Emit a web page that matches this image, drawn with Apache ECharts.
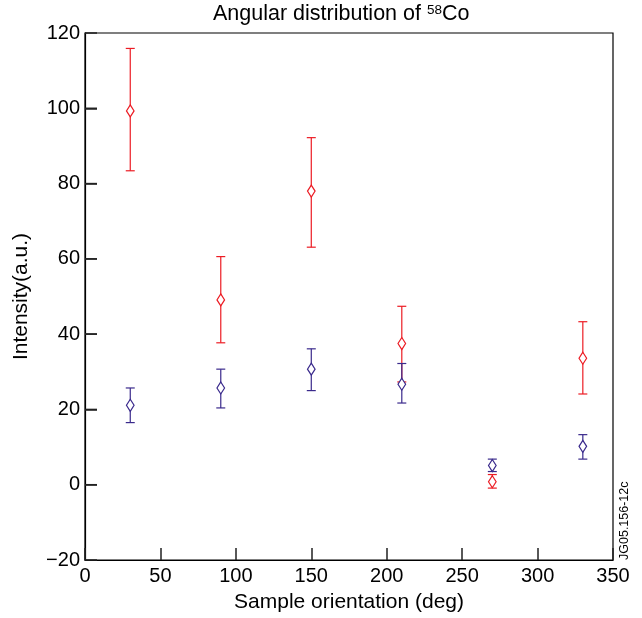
<!DOCTYPE html>
<html>
<head>
<meta charset="utf-8">
<script src="https://cdn.jsdelivr.net/npm/echarts@6/dist/echarts.min.js"></script>
<style>
html,body{margin:0;padding:0;background:#fff;}
#chart{width:642px;height:618px;}
</style>
</head>
<body>
<div id="chart"></div>
<script>
// Sample orientation (deg)
const orientations = [30, 90, 150, 210, 270, 330];
// Red series: value, lower and upper error bounds
const redValues = [99.3, 49.1, 78.0, 37.5, 0.8, 33.6];
const redLow    = [83.4, 37.7, 63.1, 27.3, -0.9, 24.1];
const redHigh   = [115.9, 60.6, 92.2, 47.4, 2.7, 43.3];
// Blue series
const blueValues = [21.1, 25.7, 30.7, 26.7, 5.1, 10.2];
const blueLow    = [16.5, 20.4, 25.0, 21.7, 3.5, 6.8];
const blueHigh   = [25.7, 30.7, 36.1, 32.2, 6.8, 13.3];
// Y tick values (for inward tick marks on the left axis)
const yTicks = [0, 20, 40, 60, 80, 100];

const RED = '#ec1c24';
const BLUE = '#3a2a8c';
const FONT = 'Liberation Sans, Arial, sans-serif';

function build(vals, lo, hi) {
  return orientations.map((x, i) => [x, vals[i], lo[i], hi[i]]);
}

function makeRender(color) {
  return function (params, api) {
    const x = api.value(0), y = api.value(1), l = api.value(2), h = api.value(3);
    const p = api.coord([x, y]);
    const pl = api.coord([x, l]);
    const ph = api.coord([x, h]);
    const cw = 4.5, dw = 3.8, dh = 6;
    const ls = { stroke: color, lineWidth: 1.2 };
    return {
      type: 'group',
      children: [
        { type: 'line', shape: { x1: p[0], y1: pl[1], x2: p[0], y2: ph[1] }, style: ls },
        { type: 'line', shape: { x1: p[0] - cw, y1: pl[1], x2: p[0] + cw, y2: pl[1] }, style: ls },
        { type: 'line', shape: { x1: p[0] - cw, y1: ph[1], x2: p[0] + cw, y2: ph[1] }, style: ls },
        { type: 'polygon', shape: { points: [[p[0], p[1] - dh], [p[0] + dw, p[1]], [p[0], p[1] + dh], [p[0] - dw, p[1]]] },
          style: { fill: '#fff', stroke: color, lineWidth: 1.2 } }
      ]
    };
  };
}

function renderTick(params, api) {
  const p = api.coord([api.value(0), api.value(1)]);
  return {
    type: 'line',
    shape: { x1: p[0], y1: p[1], x2: p[0] + 12, y2: p[1] },
    style: { stroke: '#222', lineWidth: 1.5 }
  };
}

const chart = echarts.init(document.getElementById('chart'), null, { renderer: 'canvas' });
chart.setOption({
  backgroundColor: '#fff',
  animation: false,
  textStyle: { fontFamily: FONT },
  grid: { left: 85, right: 29, top: 33, bottom: 57, show: true, borderColor: '#000', borderWidth: 1.2 },
  graphic: [
    {
      type: 'text', left: 213, top: 3,
      style: {
        text: '{a|Angular distribution of }{s|58}{a|Co}',
        rich: {
          a: { fontSize: 21.5, fontFamily: FONT, fill: '#000', lineHeight: 24 },
          s: { fontSize: 13.5, fontFamily: FONT, fill: '#000', lineHeight: 24, padding: [0, 0, 9, 0] }
        }
      }
    },
    {
      type: 'text', x: 625, y: 560, rotation: Math.PI / 2,
      style: { text: 'JG05.156-12c', fontSize: 12.5, fontFamily: FONT, fill: '#000', textAlign: 'left', textVerticalAlign: 'middle' }
    }
  ],
  xAxis: {
    type: 'value', min: 0, max: 350, interval: 50, position: 'bottom',
    name: 'Sample orientation (deg)', nameLocation: 'middle', nameGap: 32,
    nameTextStyle: { fontSize: 21, color: '#000', fontFamily: FONT },
    axisLine: { show: true, onZero: false, lineStyle: { color: '#000', width: 1.2 } },
    axisTick: { show: true, inside: true, length: 12, lineStyle: { color: '#222', width: 1.5 } },
    axisLabel: { fontSize: 20, color: '#000', margin: 6, fontFamily: FONT },
    splitLine: { show: false }
  },
  yAxis: {
    type: 'value', min: -20, max: 120, interval: 20, position: 'left',
    name: 'Intensity(a.u.)', nameLocation: 'middle', nameGap: 53,
    nameTextStyle: { fontSize: 21, color: '#000', fontFamily: FONT },
    axisLine: { show: true, onZero: false, lineStyle: { color: '#000', width: 1.2 } },
    axisTick: { show: true, inside: true, length: 12, lineStyle: { color: '#222', width: 1.5 } },
    axisLabel: { fontSize: 20, color: '#000', margin: 5, fontFamily: FONT,
      formatter: v => String(v).replace('-', '\u2212') },
    splitLine: { show: false }
  },
  series: [
    { name: 'yticks', type: 'custom', renderItem: renderTick, data: yTicks.map(v => [0, v]), encode: { x: 0, y: 1 }, clip: false, silent: true },
    { name: 'red', type: 'custom', renderItem: makeRender(RED), data: build(redValues, redLow, redHigh), encode: { x: 0, y: [1, 2, 3] }, clip: false },
    { name: 'blue', type: 'custom', renderItem: makeRender(BLUE), data: build(blueValues, blueLow, blueHigh), encode: { x: 0, y: [1, 2, 3] }, clip: false }
  ]
});
</script>
</body>
</html>
